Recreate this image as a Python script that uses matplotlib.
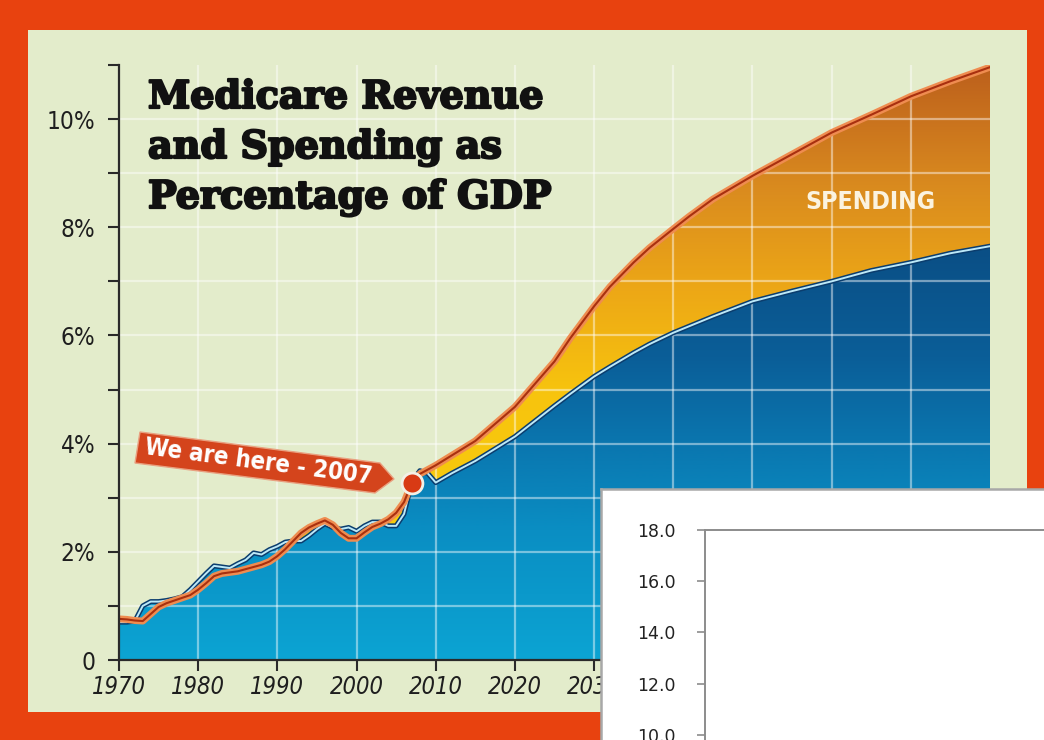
import numpy as np
import matplotlib
matplotlib.use("Agg")
import matplotlib.pyplot as plt
from matplotlib.colors import LinearSegmentedColormap
from matplotlib.patches import Polygon, Rectangle
from matplotlib.ticker import FixedLocator, FuncFormatter
from matplotlib import font_manager as fm
from matplotlib.font_manager import FontProperties
import matplotlib.patheffects as pe

# ---------------- data ----------------
years = [1970, 1971, 1972, 1973, 1974, 1975, 1976, 1977, 1978, 1979,
         1980, 1981, 1982, 1983, 1984, 1985, 1986, 1987, 1988, 1989,
         1990, 1991, 1992, 1993, 1994, 1995, 1996, 1997, 1998, 1999,
         2000, 2001, 2002, 2003, 2004, 2005, 2006, 2007, 2008, 2009,
         2010, 2012, 2015, 2020, 2025, 2027, 2030, 2032, 2035, 2037,
         2040, 2042, 2045, 2050, 2055, 2060, 2065, 2070, 2075, 2080]
spending = [0.76, 0.75, 0.73, 0.72, 0.85, 0.98, 1.05, 1.10, 1.15, 1.20,
            1.30, 1.42, 1.55, 1.60, 1.62, 1.64, 1.68, 1.72, 1.76, 1.82,
            1.92, 2.05, 2.20, 2.35, 2.45, 2.52, 2.58, 2.50, 2.35, 2.25,
            2.25, 2.36, 2.46, 2.52, 2.60, 2.72, 2.92, 3.28, 3.44, 3.52,
            3.60, 3.78, 4.05, 4.68, 5.52, 5.95, 6.54, 6.90, 7.35, 7.62,
            7.97, 8.20, 8.52, 8.95, 9.35, 9.75, 10.08, 10.42, 10.70, 10.96]
revenue = [0.70, 0.70, 0.72, 1.00, 1.08, 1.08, 1.10, 1.13, 1.17, 1.30,
           1.45, 1.60, 1.74, 1.72, 1.70, 1.78, 1.85, 1.98, 1.95, 2.04,
           2.10, 2.18, 2.20, 2.20, 2.30, 2.42, 2.52, 2.45, 2.42, 2.45,
           2.38, 2.48, 2.55, 2.55, 2.48, 2.48, 2.70, 3.30, 3.50, 3.45,
           3.28, 3.45, 3.68, 4.13, 4.70, 4.92, 5.24, 5.42, 5.68, 5.84,
           6.05, 6.17, 6.35, 6.63, 6.82, 7.00, 7.20, 7.35, 7.52, 7.65]
x_ticks = [1970, 1980, 1990, 2000, 2010, 2020, 2030, 2040, 2050, 2060, 2070]
x_tick_labels = ["1970", "1980", "1990", "2000", "2010", "2020", "2030",
                 "", "", "", ""]
y_labels = {0: "0", 2: "2%", 4: "4%", 6: "6%", 8: "8%", 10: "10%"}
title_lines = ["Medicare Revenue", "and Spending as", "Percentage of GDP"]
here_year = 2007
here_text = "We are here - 2007"
series_label = "SPENDING"
inset_ticks = [10.0, 12.0, 14.0, 16.0, 18.0]

# ---------------- fonts ----------------
def pick_condensed():
    order = ["DejaVu Sans", "Liberation Sans Narrow", "Roboto Condensed",
             "Open Sans Condensed", "Noto Sans", "Open Sans", "Roboto"]
    found = []
    for f in fm.fontManager.ttflist:
        st = str(f.stretch).lower()
        nm = f.name
        low = nm.lower()
        if "mono" in low or ("serif" in low and "sans" not in low):
            continue
        if "condensed" in st or "narrow" in low or "condensed" in low:
            found.append((nm, f.stretch))
    for o in order:
        for nm, st in found:
            if nm == o:
                return nm, st
    if found:
        return found[0]
    return "Roboto", "normal"

COND_FAM, COND_STRETCH = pick_condensed()

W, H = 1044, 740
fig = plt.figure(figsize=(W / 100, H / 100), dpi=100)
fig.patch.set_facecolor("#E8420F")
renderer = fig.canvas.get_renderer()

def fit_size(s, target_px, **kw):
    fp = FontProperties(size=20, **kw)
    w, h, d = renderer.get_text_width_height_descent(s, fp, ismath=False)
    return 20 * target_px / w

def cprops(**kw):
    return dict(family=[COND_FAM, "DejaVu Sans"], stretch=COND_STRETCH, **kw)

def fx(x):
    return x / W

def fy(y):
    return 1 - y / H

fig.patches.append(Rectangle((fx(28), fy(712)), fx(1027) - fx(28), fy(30) - fy(712),
                             transform=fig.transFigure, facecolor="#E3ECCB",
                             edgecolor="none", zorder=-5))

ax = fig.add_axes([fx(119), fy(660), fx(990) - fx(119), fy(65) - fy(660)])
ax.set_facecolor("none")
x0, x1 = years[0], years[-1]

sp_cmap = LinearSegmentedColormap.from_list(
    "sp", [(0.0, "#F8D20A"), (0.45, "#F7C40E"), (0.62, "#EDA816"),
           (0.8, "#D98A1F"), (1.0, "#BC5F1C")])
rv_cmap = LinearSegmentedColormap.from_list(
    "rv", [(0.0, "#0CA4D3"), (0.3, "#0A8EC3"), (0.5, "#0A76AF"),
           (0.7, "#0B5E98"), (1.0, "#0A4C82")])
grad = np.linspace(0, 1, 256).reshape(-1, 1)

sp_poly = Polygon([(x0, 0)] + list(zip(years, spending)) + [(x1, 0)],
                  closed=True, facecolor="none", edgecolor="none",
                  transform=ax.transData)
ax.add_patch(sp_poly)
im1 = ax.imshow(grad, extent=[x0, x1, 0, 11], origin="lower", cmap=sp_cmap,
                aspect="auto", zorder=1, interpolation="bilinear")
im1.set_clip_path(sp_poly)

rv_poly = Polygon([(x0, 0)] + list(zip(years, revenue)) + [(x1, 0)],
                  closed=True, facecolor="none", edgecolor="none",
                  transform=ax.transData)
ax.add_patch(rv_poly)
im2 = ax.imshow(grad, extent=[x0, x1, 0, 8], origin="lower", cmap=rv_cmap,
                aspect="auto", zorder=2, interpolation="bilinear")
im2.set_clip_path(rv_poly)

ax.set_xlim(x0, x1)
ax.set_ylim(0, 11)

for gx in x_ticks[1:]:
    ax.axvline(gx, color="white", lw=1.6, alpha=0.45, zorder=3)
for gy in range(1, 11):
    ax.axhline(gy, color="white", lw=1.6, alpha=0.45, zorder=3)

ax.plot(years, revenue, color="#0B3D6E", lw=3.6, zorder=4, solid_joinstyle="round")
ax.plot(years, revenue, color="#BCE9F8", lw=1.4, zorder=4.1, solid_joinstyle="round")
ax.plot(years, spending, color="#EF8C50", lw=5, zorder=5, solid_joinstyle="round")
ax.plot(years, spending, color="#A8300F", lw=1.5, zorder=5.1, solid_joinstyle="round")

i_here = years.index(here_year)
ax.plot([here_year], [spending[i_here]], marker="o", ms=15, color="#D83A14",
        mec="#F3F0E6", mew=2, zorder=7)

for s in ["top", "right"]:
    ax.spines[s].set_visible(False)
for s in ["left", "bottom"]:
    ax.spines[s].set_color("#2A2A2A")
    ax.spines[s].set_linewidth(1.6)
    ax.spines[s].set_zorder(6)

xs = fit_size("1970", 54, style="italic", **cprops())
ys = fit_size("10%", 45, **cprops()) * 1.08
ax.set_xticks(x_ticks)
ax.set_xticklabels(x_tick_labels, fontsize=xs, color="#1E1E1E",
                   **cprops(style="italic"))
ax.tick_params(axis="x", direction="out", length=8, width=1.5, color="#2A2A2A", pad=3)
ax.set_yticks(list(y_labels.keys()))
ax.set_yticklabels(list(y_labels.values()), fontsize=ys, color="#1E1E1E", **cprops())
ax.yaxis.set_minor_locator(FixedLocator([1, 3, 5, 7, 9, 11]))
ax.tick_params(axis="y", which="both", direction="out", length=8, width=1.5,
               color="#2A2A2A", pad=9)

# title
ts = fit_size(title_lines[0], 396, family="DejaVu Serif", weight="bold")
for i, line in enumerate(title_lines):
    fig.text(fx(148), fy(79 + i * 50), line, family="DejaVu Serif",
             fontweight="bold", fontsize=ts, color="#111111", va="top", ha="left",
             path_effects=[pe.withStroke(linewidth=1.6, foreground="#111111")])

ss = fit_size(series_label, 130, **cprops(weight="bold"))
fig.text(fx(870), fy(202), series_label, fontsize=ss, color="#FBF3E0",
         ha="center", va="center", zorder=8, **cprops(weight="bold"))

banner = [(140, 432), (380, 463), (394, 479), (375, 493), (135, 463)]
fig.patches.append(Polygon([(fx(a), fy(b)) for a, b in banner], closed=True,
                           transform=fig.transFigure, facecolor="#D4441C",
                           edgecolor="#E9A080", lw=1, zorder=8))
bs = fit_size(here_text, 230, **cprops(weight="bold"))
fig.text(fx(258), fy(462), here_text, fontsize=bs, color="white", rotation=-7.5,
         ha="center", va="center", rotation_mode="anchor", zorder=9,
         **cprops(weight="bold"))

# overlay white box (screenshot artefact)
axw = fig.add_axes([fx(601), 0, 1 - fx(601), fy(489)], zorder=20)
axw.set_facecolor("white")
axw.set_xticks([])
axw.set_yticks([])
for s in ["right", "bottom"]:
    axw.spines[s].set_visible(False)
for s in ["left", "top"]:
    axw.spines[s].set_color("#A8A8A8")
    axw.spines[s].set_linewidth(1.8)

axi = fig.add_axes([fx(705), 0, 1 - fx(705) + 0.01, fy(530)], zorder=21)
axi.set_facecolor("none")
axi.set_ylim(9.8, 18)
axi.set_xticks([])
axi.set_yticks(inset_ticks)
axi.yaxis.set_major_formatter(FuncFormatter(lambda v, p: f"{v:.1f}"))
axi.tick_params(axis="y", length=6, width=1.2, color="#8C8C8C", pad=15,
                labelsize=12.5, labelcolor="#222222")
for s in ["right", "bottom"]:
    axi.spines[s].set_visible(False)
for s in ["left", "top"]:
    axi.spines[s].set_color("#8C8C8C")
    axi.spines[s].set_linewidth(1.4)

fig.savefig("out.png", dpi=100)
